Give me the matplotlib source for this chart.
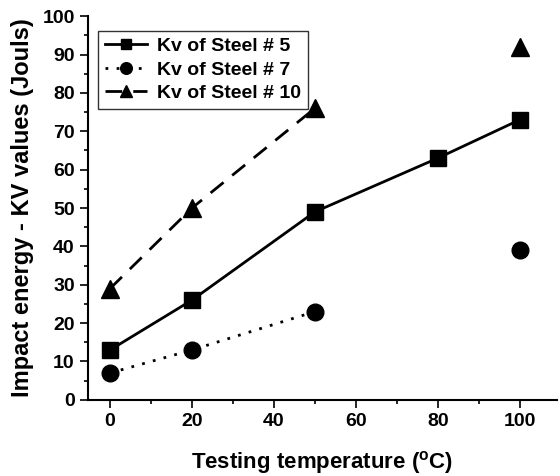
import matplotlib
matplotlib.use("Agg")
import matplotlib.pyplot as plt
from matplotlib.ticker import MultipleLocator

plt.rcParams['font.family'] = ['Liberation Sans', 'DejaVu Sans']
plt.rcParams['font.weight'] = 'bold'

# dados
temp_5 = [0, 20, 50, 80, 100]
kv_5 = [13, 26, 49, 63, 73]

temp_7 = [0, 20, 50, 100]
kv_7 = [7, 13, 23, 39]

temp_10 = [0, 20, 50, 100]
kv_10 = [29, 50, 76, 92]

fig = plt.figure(figsize=(5.6, 4.76), dpi=100)
ax = fig.add_axes([0.157, 0.16, 0.837, 0.806])

ax.plot(temp_5, kv_5, color='black', lw=2, marker='s', ms=11,
        label='Kv of Steel # 5')
# pontos de 100 °C ficam soltos (sem linha)
ax.plot(temp_7[:3], kv_7[:3], color='black', lw=2, ls=(0, (1, 3)), marker='o', ms=12,
        label='Kv of Steel # 7')
ax.plot(temp_7[3:], kv_7[3:], color='black', ls='none', marker='o', ms=12)
ax.plot(temp_10[:3], kv_10[:3], color='black', lw=2, ls=(0, (6, 4)), marker='^', ms=13,
        label='Kv of Steel # 10')
ax.plot(temp_10[3:], kv_10[3:], color='black', ls='none', marker='^', ms=13)

ax.set_xlim(-5.4, 109)
ax.set_ylim(0, 100)
ax.xaxis.set_major_locator(MultipleLocator(20))
ax.xaxis.set_minor_locator(MultipleLocator(10))
ax.yaxis.set_major_locator(MultipleLocator(10))
ax.yaxis.set_minor_locator(MultipleLocator(5))
ax.tick_params(which='both', direction='out', width=1.2, labelsize=14)
ax.tick_params(which='major', length=6)
ax.tick_params(which='minor', length=3)

for s in ['top', 'right']:
    ax.spines[s].set_visible(False)
for s in ['left', 'bottom']:
    ax.spines[s].set_linewidth(1.5)

ax.set_xlabel('Testing temperature ($^\\mathregular{o}$C)', fontsize=16, fontweight='bold', labelpad=14)
ax.set_ylabel('Impact energy - KV values (Jouls)', fontsize=17, fontweight='bold', labelpad=6)

leg = ax.legend(loc='upper left', bbox_to_anchor=(0.021, 0.962), fontsize=14, frameon=True,
                fancybox=False, edgecolor='black', handlelength=2.2, borderaxespad=0,
                labelspacing=0.3, borderpad=0.35, handletextpad=0.5, markerscale=0.7)
leg.get_frame().set_linewidth(1.0)

fig.savefig('out.png', dpi=100)
